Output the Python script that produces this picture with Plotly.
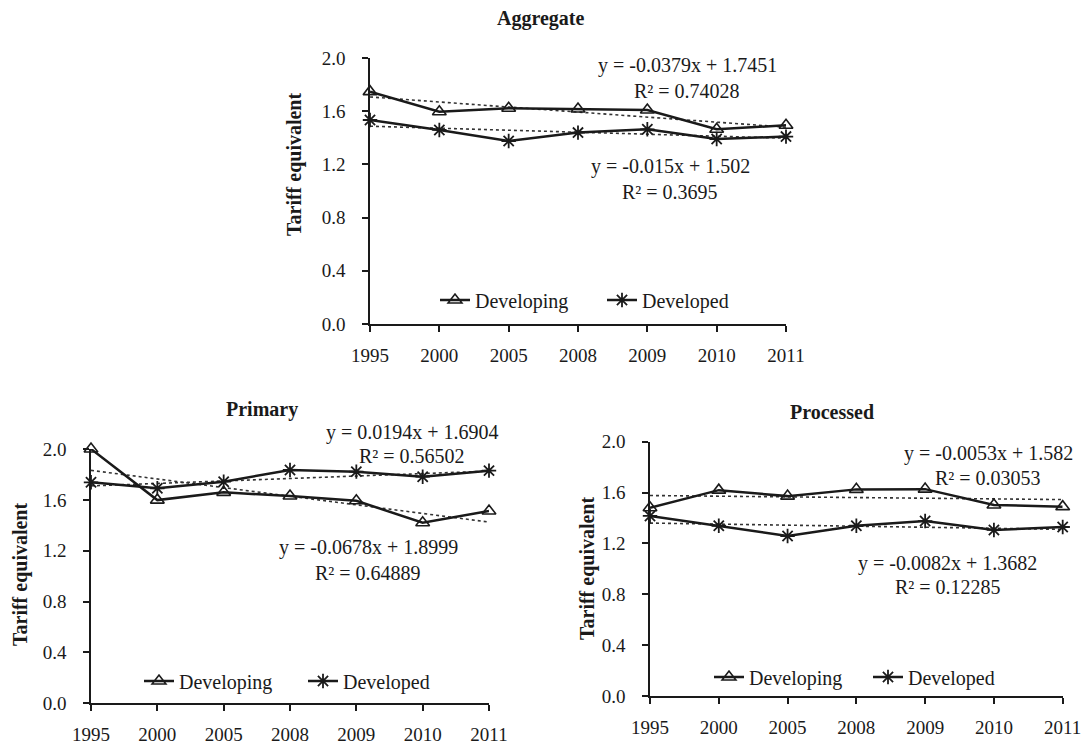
import plotly.graph_objects as go

years = ["1995", "2000", "2005", "2008", "2009", "2010", "2011"]
y_ticks = [0.0, 0.4, 0.8, 1.2, 1.6, 2.0]
y_tick_labels = ["0.0", "0.4", "0.8", "1.2", "1.6", "2.0"]

agg_developing = [1.747, 1.596, 1.622, 1.617, 1.609, 1.464, 1.494]
agg_developed = [1.534, 1.459, 1.376, 1.439, 1.464, 1.391, 1.409]
pri_developing = [2.000, 1.598, 1.659, 1.630, 1.593, 1.420, 1.512]
pri_developed = [1.738, 1.691, 1.743, 1.835, 1.822, 1.782, 1.830]
pro_developing = [1.481, 1.619, 1.572, 1.625, 1.627, 1.502, 1.489]
pro_developed = [1.416, 1.339, 1.258, 1.339, 1.376, 1.306, 1.329]

# trendline coefficients (slope, intercept) over x = 1..7
agg_dev_trend = (-0.0379, 1.7451)
agg_dvd_trend = (-0.015, 1.502)
pri_dev_trend = (-0.0678, 1.8999)
pri_dvd_trend = (0.0194, 1.6904)
pro_dev_trend = (-0.0053, 1.582)
pro_dvd_trend = (-0.0082, 1.3682)

FONT = "Liberation Serif"
INK = "#1a1a1a"
W, H = 1087, 745

def px(x):
    return x / W

def py(y):
    return 1 - y / H

panels = [
    dict(name="Aggregate", dev=agg_developing, dvd=agg_developed, tdev=agg_dev_trend, tdvd=agg_dvd_trend,
         xd=(370, 786), yd=(58, 324), legend="legend", leg=(435, 300), ew=122,
         title=(540, 18), ytitle=(294, 165),
         eq_dev=("y = -0.0379x + 1.7451", "R² = 0.74028", 687, 66, 91),
         eq_dvd=("y = -0.015x + 1.502", "R² = 0.3695", 670, 167, 192)),
    dict(name="Primary", dev=pri_developing, dvd=pri_developed, tdev=pri_dev_trend, tdvd=pri_dvd_trend,
         xd=(91, 489), yd=(449, 703.3), legend="legend2", leg=(139, 681), ew=119,
         title=(262, 409), ytitle=(20, 575),
         eq_dvd=("y = 0.0194x + 1.6904", "R² = 0.56502", 412, 432, 456),
         eq_dev=("y = -0.0678x + 1.8999", "R² = 0.64889", 368, 547, 573)),
    dict(name="Processed", dev=pro_developing, dvd=pro_developed, tdev=pro_dev_trend, tdvd=pro_dvd_trend,
         xd=(650, 1062.7), yd=(441.7, 696), legend="legend3", leg=(709, 677), ew=114,
         title=(832, 412), ytitle=(587, 569),
         eq_dev=("y = -0.0053x + 1.582", "R² = 0.03053", 988, 453, 478),
         eq_dvd=("y = -0.0082x + 1.3682", "R² = 0.12285", 948, 563, 587)),
]

fig = go.Figure()
annotations = []
layout = dict()

def note(text, x, y, angle=0):
    return dict(text=text, x=px(x), y=py(y), xref="paper", yref="paper", showarrow=False,
                xanchor="center", yanchor="middle", textangle=angle,
                font=dict(family=FONT, size=20, color=INK))

for i, p in enumerate(panels):
    sfx = "" if i == 0 else str(i + 1)
    xa, ya = "x" + sfx, "y" + sfx
    idx = list(range(1, len(years) + 1))
    for key, tkey in (("dev", "tdev"), ("dvd", "tdvd")):
        m, b = p[tkey]
        fig.add_trace(go.Scatter(x=years, y=[m * k + b for k in idx], mode="lines",
                                 line=dict(color="#333333", width=1.6, dash="dot"),
                                 showlegend=False, hoverinfo="skip", xaxis=xa, yaxis=ya, cliponaxis=False))
    fig.add_trace(go.Scatter(x=years, y=p["dev"], mode="lines+markers", name="Developing",
                             line=dict(color=INK, width=2.5),
                             marker=dict(symbol="triangle-up-open", size=12, color=INK, line=dict(width=1.6)),
                             xaxis=xa, yaxis=ya, legend=p["legend"], cliponaxis=False))
    fig.add_trace(go.Scatter(x=years, y=p["dvd"], mode="lines+markers", name="Developed",
                             line=dict(color=INK, width=2.5),
                             marker=dict(symbol="asterisk-open", size=12, color=INK, line=dict(width=1.8, color=INK)),
                             xaxis=xa, yaxis=ya, legend=p["legend"], cliponaxis=False))

    layout["xaxis" + sfx] = dict(domain=[px(p["xd"][0]), px(p["xd"][1])], anchor=ya, type="category",
                                 range=[0, len(years) - 1], showline=True, linecolor=INK, linewidth=1.5,
                                 ticks="outside", ticklen=6, tickwidth=1.5, tickcolor=INK,
                                 showgrid=False, zeroline=False, ticklabelstandoff=7, automargin=False,
                                 tickfont=dict(family=FONT, size=19, color=INK))
    layout["yaxis" + sfx] = dict(domain=[py(p["yd"][1]), py(p["yd"][0])], anchor=xa,
                                 range=[0, 2.0], tickvals=y_ticks, ticktext=y_tick_labels,
                                 showline=True, linecolor=INK, linewidth=1.5,
                                 ticks="outside", ticklen=6, tickwidth=1.5, tickcolor=INK,
                                 showgrid=False, zeroline=False, ticklabelstandoff=13, automargin=False,
                                 tickfont=dict(family=FONT, size=19, color=INK))
    layout[p["legend"]] = dict(orientation="h", x=px(p["leg"][0]), y=py(p["leg"][1]),
                               xanchor="left", yanchor="middle", bgcolor="rgba(0,0,0,0)",
                               entrywidth=p["ew"], entrywidthmode="pixels",
                               font=dict(family=FONT, size=20, color=INK))

    annotations.append(note("<b>%s</b>" % p["name"], p["title"][0], p["title"][1]))
    annotations.append(note("<b>Tariff equivalent</b>", p["ytitle"][0], p["ytitle"][1], -90))
    for eq in (p["eq_dev"], p["eq_dvd"]):
        l1, l2, cx, y1, y2 = eq
        annotations.append(note(l1, cx, y1))
        annotations.append(note(l2, cx, y2))

fig.update_layout(width=W, height=H, margin=dict(l=0, r=0, t=0, b=0, autoexpand=False),
                  paper_bgcolor="white", plot_bgcolor="white",
                  annotations=annotations, **layout)

fig.write_html("out.html", config={"displayModeBar": False},
               post_script="document.body.style.margin='0';document.body.style.overflow='hidden';")
